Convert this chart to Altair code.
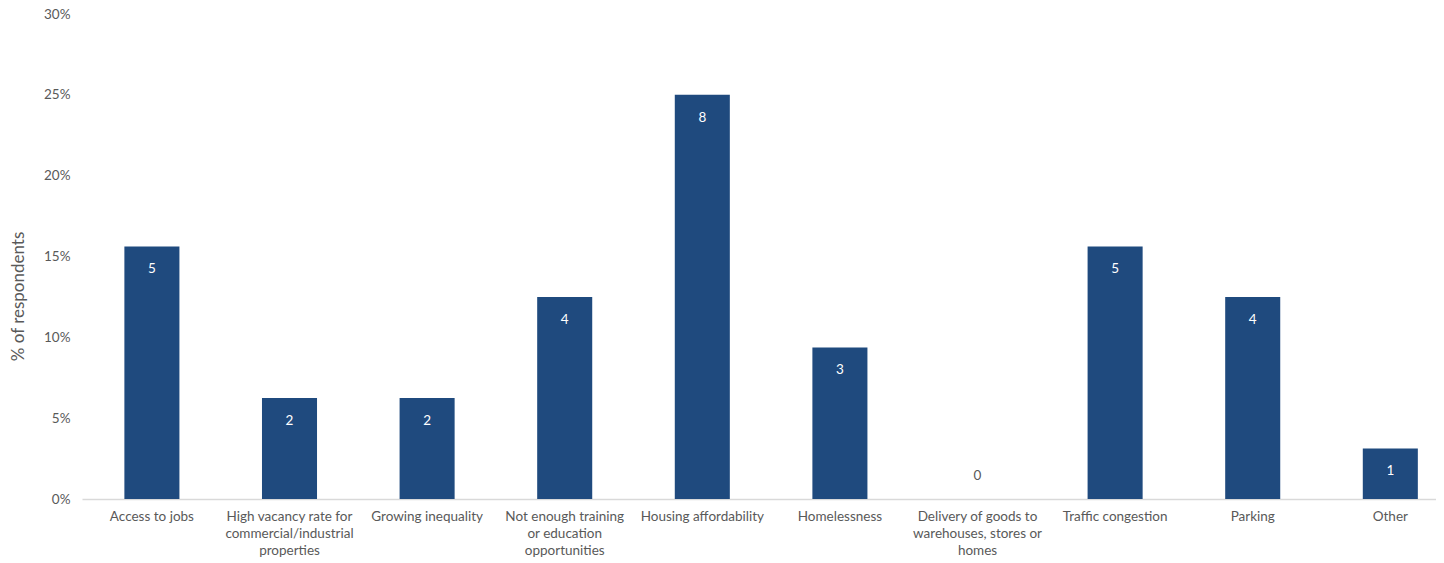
import json
import altair as alt
import pandas as pd

categories = [
    "Access to jobs",
    "High vacancy rate for commercial/industrial properties",
    "Growing inequality",
    "Not enough training or education opportunities",
    "Housing affordability",
    "Homelessness",
    "Delivery of goods to warehouses, stores or homes",
    "Traffic congestion",
    "Parking",
    "Other",
]
label_lines = [
    ["Access to jobs"],
    ["High vacancy rate for", "commercial/industrial", "properties"],
    ["Growing inequality"],
    ["Not enough training", "or education", "opportunities"],
    ["Housing affordability"],
    ["Homelessness"],
    ["Delivery of goods to", "warehouses, stores or", "homes"],
    ["Traffic congestion"],
    ["Parking"],
    ["Other"],
]
counts = [5, 2, 2, 4, 8, 3, 0, 5, 4, 1]
total_respondents = 32

df = pd.DataFrame({
    "category": categories,
    "count": counts,
    "pct": [c / total_respondents for c in counts],
})

label_map = json.dumps(dict(zip(categories, label_lines)))
FONT = "Lato"
GRAY = "#595959"

x = alt.X(
    "category:N",
    sort=categories,
    title=None,
    scale=alt.Scale(paddingInner=0.6, paddingOuter=0.22, align=0.7),
    axis=alt.Axis(
        labelAngle=0,
        labelExpr=f"{label_map}[datum.value]",
        labelFont=FONT,
        labelFontSize=13.5,
        labelColor=GRAY,
        labelLineHeight=17,
        labelPadding=10,
        labelLimit=300,
        ticks=False,
        grid=False,
        domainColor="#d9d9d9",
        domainWidth=1.5,
    ),
)
y = alt.Y(
    "pct:Q",
    title="% of respondents",
    scale=alt.Scale(domain=[0, 0.3], nice=False),
    axis=alt.Axis(
        format=".0%",
        values=[0, 0.05, 0.1, 0.15, 0.2, 0.25, 0.3],
        grid=False,
        domain=False,
        ticks=False,
        labelFont=FONT,
        labelFontSize=13.5,
        labelColor=GRAY,
        labelPadding=12,
        titleFont=FONT,
        titleFontSize=17,
        titleFontWeight="normal",
        titleColor=GRAY,
        titleX=-64,
        titleY=282,
        titleBaseline="middle",
    ),
)

bars = alt.Chart(df).mark_bar(color="#1F4A7E").encode(x=x, y=y)
pos_texts = alt.Chart(df).transform_filter(alt.datum.count > 0).mark_text(
    dy=23, font=FONT, fontSize=13.5, baseline="middle", color="white"
).encode(
    x=alt.X("category:N", sort=categories),
    y=alt.Y("pct:Q"),
    text=alt.Text("count:Q"),
)
zero_texts = alt.Chart(df).transform_filter(alt.datum.count == 0).mark_text(
    dy=-23, font=FONT, fontSize=13.5, baseline="middle", color=GRAY
).encode(
    x=alt.X("category:N", sort=categories),
    y=alt.Y("pct:Q"),
    text=alt.Text("count:Q"),
)

chart = (
    alt.layer(bars, pos_texts, zero_texts)
    .properties(
        width=1354,
        height=485,
        background="white",
        autosize=alt.AutoSizeParams(type="none"),
        padding={"left": 74, "top": 6, "right": 0, "bottom": 62},
    )
    .configure_view(strokeWidth=0, stroke="transparent")
)

chart.save("out.html", embed_options={"renderer": "svg", "actions": False})
